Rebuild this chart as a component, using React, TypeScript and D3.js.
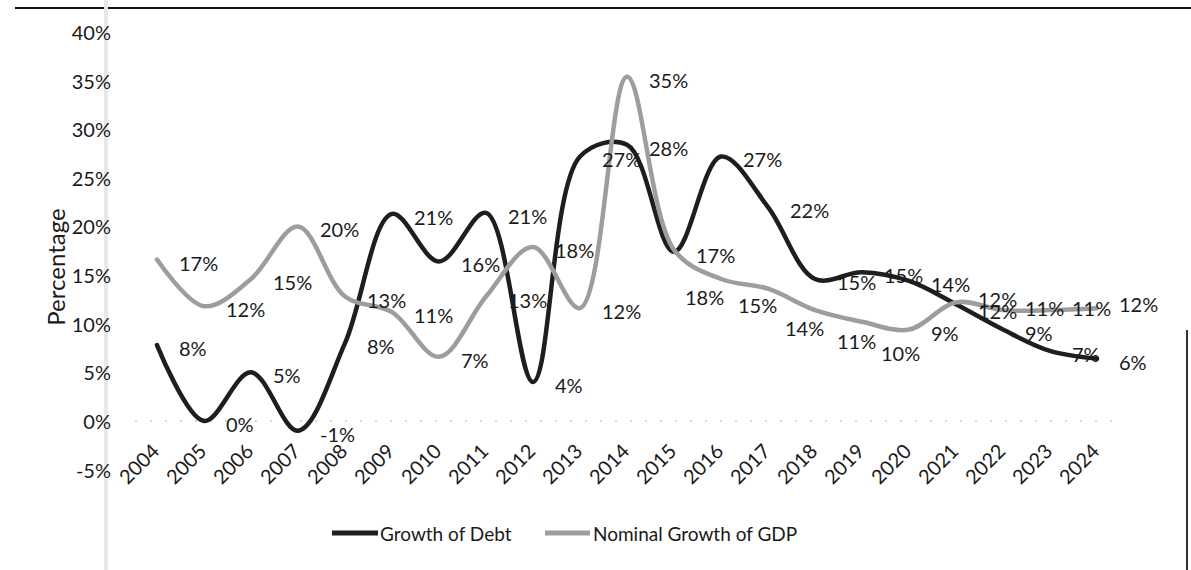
import React from "react";
import * as d3 from "d3";

const years = ["2004","2005","2006","2007","2008","2009","2010","2011","2012","2013","2014","2015","2016","2017","2018","2019","2020","2021","2022","2023","2024"];
const debtGrowth = [7.8, 0, 5, -1, 8, 21.3, 16.4, 21.4, 4, 27.2, 28.4, 17.4, 27.2, 22, 14.6, 15.3, 14.4, 12, 9.4, 7.2, 6.4];
const gdpGrowth = [16.6, 11.8, 14.6, 20, 12.8, 11.2, 6.6, 12.8, 17.9, 11.6, 35.4, 17.6, 14.6, 13.6, 11.4, 10.2, 9.4, 12.2, 11.4, 11.4, 11.6];
const yTicks = [-5, 0, 5, 10, 15, 20, 25, 30, 35, 40];
const seriesNames = ["Growth of Debt", "Nominal Growth of GDP"];
// manual label nudges (as in the source chart, some labels were dragged)
const debtLabelNudge: Record<string, [number, number]> = { "2021": [0, 4] };
const gdpLabelNudge: Record<string, [number, number]> = {
  "2015": [-11, 44],
  "2016": [-5, 23],
  "2017": [-5, 36],
  "2018": [0, 28],
  "2019": [-3, 28],
  "2021": [0, -6],
  "2022": [0, -5],
  "2023": [0, -5],
  "2024": [0, -7],
};

const FONT = "Lato, 'Open Sans', sans-serif";
const BLACK = "#1e1e1e";
const GRAY = "#9d9d9d";
const TEXT = "#1a1a1a";

export default function App() {
  const W = 1191, H = 570;
  const x = d3.scalePoint<string>().domain(years).range([157, 1097]);
  const y = d3.scaleLinear().domain([-5, 40]).range([469.6, 32]);
  const line = d3
    .line<number>()
    .x((_, i) => x(years[i]) as number)
    .y((d) => y(d))
    .curve(d3.curveCatmullRom.alpha(0.5));

  const series = [
    { name: seriesNames[0], values: debtGrowth, color: BLACK, nudge: debtLabelNudge },
    { name: seriesNames[1], values: gdpGrowth, color: GRAY, nudge: gdpLabelNudge },
  ];

  return (
    <svg
      width={W}
      height={H}
      style={{ position: "absolute", left: 0, top: 0, background: "#fff" }}
      fontFamily={FONT}
    >
      <rect x={0} y={0} width={W} height={H} fill="#fff" />
      {/* scan borders */}
      <line x1={15} x2={W} y1={8} y2={8} stroke="#111" strokeWidth={2} />
      <line x1={106} x2={106} y1={0} y2={H} stroke="#ece6e6" strokeWidth={4} />
      <line x1={1187} x2={1187} y1={330} y2={H} stroke="#333" strokeWidth={2} />

      {/* zero baseline (faint dotted) */}
      <line
        x1={135}
        x2={1120}
        y1={y(0)}
        y2={y(0)}
        stroke="#b5b5b5"
        strokeWidth={1.2}
        strokeDasharray="2 13"
      />

      {/* y ticks */}
      {yTicks.map((t) => (
        <text
          key={t}
          x={111}
          y={y(t)}
          textAnchor="end"
          dominantBaseline="central"
          fontSize={20}
          fill={TEXT}
        >
          {`${t}%`}
        </text>
      ))}
      <text
        transform={`translate(55,267) rotate(-90)`}
        textAnchor="middle"
        dominantBaseline="central"
        fontSize={24}
        fill={TEXT}
      >
        Percentage
      </text>

      {/* x tick labels */}
      {years.map((yr) => (
        <text
          key={yr}
          transform={`translate(${(x(yr) as number) - 2},${447}) rotate(-45)`}
          textAnchor="end"
          dominantBaseline="central"
          fontSize={20}
          fill={TEXT}
        >
          {yr}
        </text>
      ))}

      {/* lines */}
      {series.map((s) => (
        <path
          key={s.name}
          d={line(s.values) || ""}
          fill="none"
          stroke={s.color}
          strokeWidth={4.5}
          strokeLinecap="round"
          strokeLinejoin="round"
        />
      ))}

      {/* data labels */}
      {series.map((s) =>
        s.values.map((v, i) => {
          const n = s.nudge[years[i]] || [0, 0];
          return (
            <text
              key={s.name + i}
              x={(x(years[i]) as number) + 22 + n[0]}
              y={y(v) + 3 + n[1]}
              dominantBaseline="central"
              fontSize={20}
              fill={TEXT}
            >
              {`${Math.round(v)}%`}
            </text>
          );
        })
      )}

      {/* legend */}
      <line x1={332} x2={378} y1={533} y2={533} stroke={BLACK} strokeWidth={5} />
      <text x={380} y={533} dominantBaseline="central" fontSize={19} fill={TEXT}>
        {seriesNames[0]}
      </text>
      <line x1={545} x2={590} y1={533} y2={533} stroke={GRAY} strokeWidth={5} />
      <text x={593} y={533} dominantBaseline="central" fontSize={19} fill={TEXT}>
        {seriesNames[1]}
      </text>
    </svg>
  );
}
